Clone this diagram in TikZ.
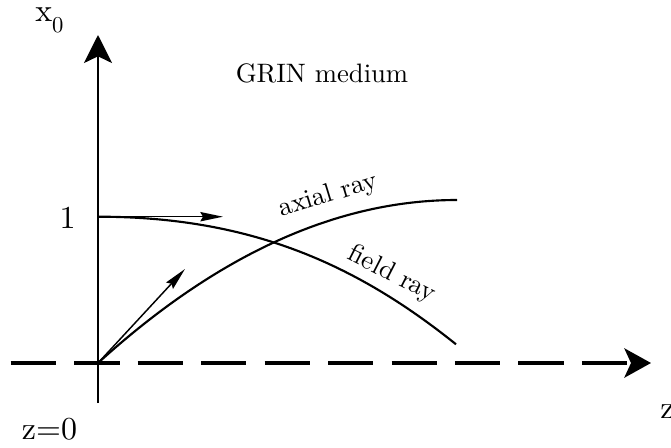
\documentclass[tikz,border=0pt]{standalone}
\usepackage{fontspec}
\setmainfont{lmroman10-regular.otf}
\usetikzlibrary{arrows.meta}
\begin{document}
\begin{tikzpicture}[x=0.75pt,y=-0.75pt,
  axis/.style={line width=1.5pt, -{Stealth[length=21pt,width=21pt,inset=5pt]}},
  dashaxis/.style={line width=2.4pt, dash pattern=on 34pt off 13.6pt, -{Stealth[length=20pt,width=22pt,inset=5pt]}},
  ray/.style={line width=1.6pt},
  vec/.style={line width=1.1pt, -{Stealth[length=17pt,width=7pt,inset=2pt]}},
  axlabel/.style={font=\fontsize{24}{28}\selectfont, inner sep=0pt},
  lbl/.style={font=\fontsize{20}{24}\selectfont, inner sep=0pt}]
\useasboundingbox (0,0) rectangle (671,447);
% coordinates
\coordinate (O) at (98,363);
\coordinate (ybot) at (98,403);
\coordinate (ytop) at (98,35);
\coordinate (xl) at (10.7,363);
\coordinate (xr) at (651,363);
\coordinate (one) at (98,216.7);
\coordinate (hend) at (223,216.7);
\coordinate (dend) at (185,269);
\coordinate (axend) at (457,200);
\coordinate (fend) at (456,344.3);
% axes
\draw[axis] (ybot) -- (ytop);
\draw[dashaxis] (xl) -- (xr);
% rays
\draw[ray] (O) .. controls (217.7,254.3) and (337.3,200) .. (axend);
\draw[ray] (one) .. controls (250,216.7) and (356,264) .. (fend);
% vectors
\draw[vec] (one) -- (hend);
\draw[vec] (O) -- (dend);
% labels
\node[axlabel, anchor=base west] (xlab) at (35,21.7) {x\raisebox{-0.34em}{\fontsize{17}{17}\selectfont 0}};
\node[axlabel, anchor=base] (onelab) at (67.5,228.3) {1};
\node[axlabel, anchor=base west] (zlab) at (660,418.3) {z};
\node[axlabel, anchor=base west] (z0lab) at (21.7,439) {z=0};
\node[lbl, anchor=base] (grin) at (322,82.3) {GRIN medium};
\node[lbl, anchor=base, rotate=17] (axlbl) at (330,202) {axial ray};
\node[lbl, anchor=base, rotate=-27] (fdlbl) at (389,280.5) {field ray};
\end{tikzpicture}
\end{document}
